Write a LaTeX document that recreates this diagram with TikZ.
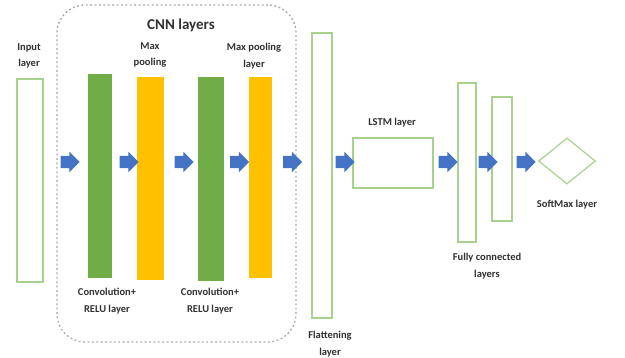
\documentclass[tikz,border=0pt]{standalone}
\usepackage{fontspec}
\setmainfont{Carlito}
\usetikzlibrary{shapes.arrows,shapes.geometric}
\definecolor{barGreen}{HTML}{70AD47}
\definecolor{barYellow}{HTML}{FFC000}
\definecolor{arrowBlue}{HTML}{4472C4}
\definecolor{lineGreen}{HTML}{A9D18E}
\definecolor{labelGray}{HTML}{303030}
\tikzset{
  whitebar/.style={draw=lineGreen, line width=1.2pt, fill=white, inner sep=0pt},
  convbar/.style={fill=barGreen, inner sep=0pt},
  poolbar/.style={fill=barYellow, inner sep=0pt},
  flowarrow/.style={single arrow, fill=arrowBlue, inner sep=0pt,
    minimum height=19pt, single arrow head extend=4pt},
  cnnbox/.style={draw=gray!70, line width=1.3pt, dash pattern=on 1.8pt off 2.6pt,
    rounded corners=28pt, inner sep=0pt},
  lbl/.style={font=\fontsize{10.5}{16.5}\selectfont\bfseries, text=labelGray, align=center, inner sep=0pt}
}
\newcommand{\shaft}{\rule{0pt}{12pt}}
\begin{document}
\begin{tikzpicture}[x=1pt,y=-1pt]
        \useasboundingbox (0,0) rectangle (625,357);
        % the dashed CNN frame
        \node[cnnbox, minimum width=239pt, minimum height=337pt] (cnn) at (176.5,173.5) {};
        \node[lbl, font=\fontsize{15}{18}\selectfont\bfseries] (cnntitle) at (181,25) {CNN layers};
        % layers
        \node[whitebar, minimum width=26pt, minimum height=203pt] (input) at (30,180.5) {};
        \node[convbar, minimum width=24pt, minimum height=204pt] (conv1) at (100,176) {};
        \node[poolbar, minimum width=27pt, minimum height=203pt] (pool1) at (150.5,178.5) {};
        \node[convbar, minimum width=26pt, minimum height=204pt] (conv2) at (211,179) {};
        \node[poolbar, minimum width=23pt, minimum height=201pt] (pool2) at (260.5,177.5) {};
        \node[whitebar, minimum width=20pt, minimum height=285pt] (flat) at (322,175.5) {};
        \node[whitebar, minimum width=80pt, minimum height=50pt] (lstm) at (393,163) {};
        \node[whitebar, minimum width=18pt, minimum height=159pt] (fc1) at (467,162.5) {};
        \node[whitebar, minimum width=20pt, minimum height=124pt] (fc2) at (502,159) {};
        \node[diamond, draw=lineGreen, line width=1.2pt, inner sep=0pt, minimum width=57pt,
              minimum height=46pt] (softmax) at (567,161) {};
        % block arrows between the layers
        \node[flowarrow] (a1) at (67,162) {\shaft};
        \node[flowarrow] (a2) at (126,162) {\shaft};
        \node[flowarrow] (a3) at (181,162) {\shaft};
        \node[flowarrow] (a4) at (236.5,162) {\shaft};
        \node[flowarrow] (a5) at (289.5,162) {\shaft};
        \node[flowarrow] (a6) at (342,162) {\shaft};
        \node[flowarrow] (a7) at (445,162) {\shaft};
        \node[flowarrow] (a8) at (485,162) {\shaft};
        \node[flowarrow] (a9) at (523,162) {\shaft};
        % labels
        \node[lbl] (inputlbl) at (29,56) {Input\\layer};
        \node[lbl] (pool1lbl) at (150,55) {Max\\pooling};
        \node[lbl] (pool2lbl) at (254,56) {Max pooling\\layer};
        \node[lbl] (conv1lbl) at (107,301) {Convolution+\\RELU layer};
        \node[lbl] (conv2lbl) at (210,301) {Convolution+\\RELU layer};
        \node[lbl] (flatlbl) at (330,344) {Flattening\\layer};
        \node[lbl] (lstmlbl) at (392,123) {LSTM layer};
        \node[lbl] (fclbl) at (487,266) {Fully connected\\layers};
        \node[lbl] (softmaxlbl) at (567,205) {SoftMax layer};
\end{tikzpicture}
\end{document}
